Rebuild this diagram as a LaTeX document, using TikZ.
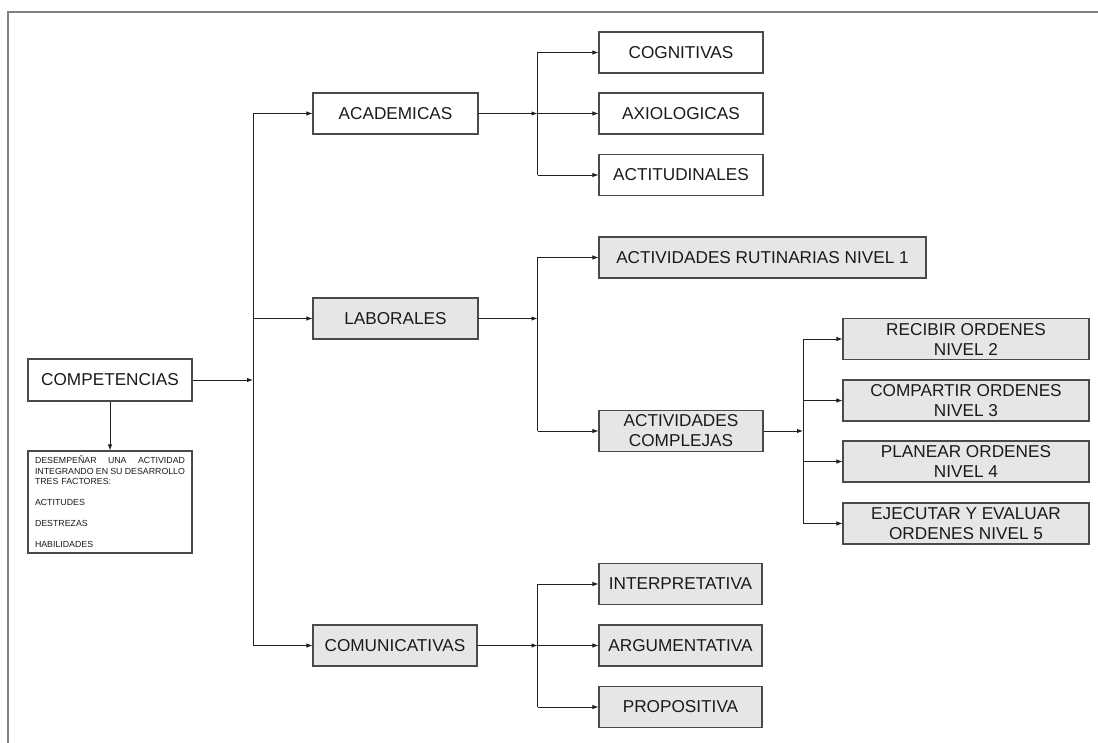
\documentclass[tikz,border=0pt]{standalone}
\usepackage{fontspec}
\setmainfont{Liberation Sans}
\usetikzlibrary{arrows.meta}
\definecolor{boxline}{HTML}{4A4A4A}
\definecolor{boxfill}{HTML}{E6E6E6}
\definecolor{linec}{HTML}{202020}
\definecolor{textc}{HTML}{1A1A1A}
\definecolor{framec}{HTML}{808080}
\begin{document}
\begin{tikzpicture}[x=1pt,y=-1pt,
  box/.style={draw=boxline, line width=1.1pt, fill=white, inner sep=0pt,
    text=textc, font=\fontsize{17.2}{20}\selectfont, align=center,
    minimum height=41pt},
  shaded/.style={box, fill=boxfill},
  link/.style={draw=linec, line width=0.9pt},
  arr/.style={link, -{Latex[length=6pt,width=4.5pt]}},
]
\useasboundingbox (0,0) rectangle (1098,743);

% page frame
\coordinate (fb) at (8,743);
\coordinate (fc) at (8,12);
\coordinate (fr) at (1098,12);
\draw[framec, line width=2pt] (fb) -- (fc) -- (fr);

% root and its description
\node[box, minimum width=164pt, minimum height=42pt] (comp) at (110,380) {COMPETENCIAS};
\node[box, minimum width=164pt, minimum height=102pt, text width=150pt, align=left,
      font=\fontsize{8.8}{10.5}\selectfont] (desc) at (110,502)
  {\makebox[150pt][l]{DESEMPEÑAR\hfill UNA\hfill ACTIVIDAD}\\
   \makebox[150pt][l]{INTEGRANDO\hfill EN\hfill SU\hfill DESARROLLO}\\
   TRES FACTORES:\\[10.5pt]
   ACTITUDES\\[10.5pt]
   DESTREZAS\\[10.5pt]
   HABILIDADES};
\draw[arr] (comp) -- (desc);

% first level
\node[box, minimum width=165pt] (acad) at (395.5,113.5) {ACADEMICAS};
\node[shaded, minimum width=165pt] (lab) at (395.5,318.5) {LABORALES};
\node[shaded, minimum width=164pt] (comu) at (395,645.5) {COMUNICATIVAS};

\coordinate (trunk) at (253,380);
\draw[arr] (comp) -- (trunk);
\draw[link] (trunk |- acad) -- (trunk |- comu);
\draw[arr] (trunk |- acad) -- (acad);
\draw[arr] (trunk |- lab) -- (lab);
\draw[arr] (trunk |- comu) -- (comu);

% academicas
\node[box, minimum width=164pt] (cog) at (681,52.5) {COGNITIVAS};
\node[box, minimum width=164pt] (axi) at (681,113.5) {AXIOLOGICAS};
\node[box, minimum width=164pt] (act) at (681,175) {ACTITUDINALES};
\coordinate (ba) at (537.5,113.5);
\draw[arr] (acad) -- (ba);
\draw[link] (ba |- cog) -- (ba |- act);
\draw[arr] (ba |- cog) -- (cog);
\draw[arr] (ba |- axi) -- (axi);
\draw[arr] (ba |- act) -- (act);

% laborales
\node[shaded, minimum width=327pt] (rut) at (762.5,257.5) {ACTIVIDADES RUTINARIAS NIVEL 1};
\node[shaded, minimum width=164pt] (compl) at (681,431) {ACTIVIDADES\\COMPLEJAS};
\coordinate (bl) at (537.5,318.5);
\draw[arr] (lab) -- (bl);
\draw[link] (bl |- rut) -- (bl |- compl);
\draw[arr] (bl |- rut) -- (rut);
\draw[arr] (bl |- compl) -- (compl);

% actividades complejas
\node[shaded, minimum width=246pt] (rec) at (966,339) {RECIBIR ORDENES\\NIVEL 2};
\node[shaded, minimum width=246pt] (cmp) at (966,400.5) {COMPARTIR ORDENES\\NIVEL 3};
\node[shaded, minimum width=246pt] (pla) at (966,461.5) {PLANEAR ORDENES\\NIVEL 4};
\node[shaded, minimum width=246pt] (eje) at (966,523.5) {EJECUTAR Y EVALUAR\\ORDENES NIVEL 5};
\coordinate (bc) at (803,431);
\draw[arr] (compl) -- (bc);
\draw[link] (bc |- rec) -- (bc |- eje);
\draw[arr] (bc |- rec) -- (rec);
\draw[arr] (bc |- cmp) -- (cmp);
\draw[arr] (bc |- pla) -- (pla);
\draw[arr] (bc |- eje) -- (eje);

% comunicativas
\node[shaded, minimum width=163pt] (int) at (680.5,584) {INTERPRETATIVA};
\node[shaded, minimum width=163pt] (arg) at (680.5,645.5) {ARGUMENTATIVA};
\node[shaded, minimum width=163pt] (pro) at (680.5,707) {PROPOSITIVA};
\coordinate (bm) at (537.5,645.5);
\draw[arr] (comu) -- (bm);
\draw[link] (bm |- int) -- (bm |- pro);
\draw[arr] (bm |- int) -- (int);
\draw[arr] (bm |- arg) -- (arg);
\draw[arr] (bm |- pro) -- (pro);
\end{tikzpicture}
\end{document}
